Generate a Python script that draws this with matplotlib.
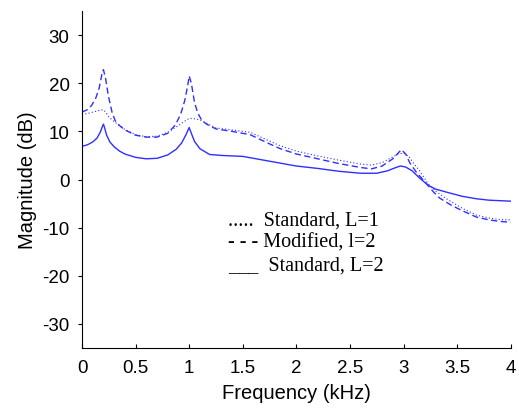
import matplotlib
matplotlib.use('Agg')
import matplotlib.pyplot as plt

# values (kHz, dB)
f_std2 = [0, 0.05, 0.1, 0.14, 0.17, 0.19, 0.2, 0.21, 0.23, 0.26, 0.3, 0.35, 0.4, 0.5, 0.6, 0.7,
          0.8, 0.88, 0.93, 0.97, 1.0, 1.02, 1.05, 1.1, 1.19, 1.3, 1.5, 1.7, 1.85, 2.0, 2.2, 2.4,
          2.6, 2.75, 2.85, 2.93, 2.97, 3.02, 3.08, 3.15, 3.23, 3.3, 3.43, 3.55, 3.68, 3.8, 4.0]
db_std2 = [6.9, 7.2, 7.8, 8.6, 9.8, 11.0, 11.5, 10.8, 9.2, 7.8, 6.8, 5.9, 5.3, 4.6, 4.3, 4.4,
           5.1, 6.3, 7.6, 9.3, 10.8, 9.6, 7.9, 6.4, 5.2, 5.0, 4.8, 4.0, 3.4, 2.8, 2.3, 1.7,
           1.3, 1.3, 1.8, 2.5, 2.8, 2.6, 1.8, 0.3, -1.2, -2.0, -2.8, -3.5, -4.0, -4.3, -4.5]

f_mod = [0, 0.05, 0.09, 0.13, 0.16, 0.18, 0.19, 0.2, 0.22, 0.245, 0.28, 0.31, 0.35, 0.4, 0.5,
         0.6, 0.7, 0.8, 0.87, 0.92, 0.96, 0.99, 1.0, 1.02, 1.05, 1.08, 1.12, 1.17, 1.25, 1.4,
         1.57, 1.75, 1.85, 2.0, 2.2, 2.4, 2.6, 2.7, 2.8, 2.9, 2.95, 2.98, 3.02, 3.06, 3.12,
         3.18, 3.23, 3.28, 3.34, 3.45, 3.55, 3.68, 3.8, 3.9, 4.0]
db_mod = [14.0, 14.5, 15.4, 17.0, 19.0, 21.2, 22.5, 22.8, 21.0, 17.5, 14.0, 12.2, 11.2, 10.3, 9.2,
          8.8, 8.8, 9.6, 11.3, 13.5, 16.5, 20.0, 21.5, 20.0, 16.0, 13.8, 12.2, 11.4, 10.5, 10.0,
          9.3, 7.4, 6.4, 5.3, 4.3, 3.3, 2.5, 2.2, 2.8, 4.3, 5.5, 6.2, 5.3, 3.4, 1.5,
          0.0, -1.3, -2.6, -3.9, -5.4, -6.5, -7.8, -8.4, -8.7, -8.9]

f_std1 = [0, 0.05, 0.1, 0.15, 0.2, 0.22, 0.25, 0.3, 0.35, 0.4, 0.5, 0.6, 0.7, 0.8, 0.9, 0.95,
          1.0, 1.05, 1.1, 1.17, 1.25, 1.4, 1.57, 1.75, 1.85, 2.0, 2.2, 2.4, 2.6, 2.7, 2.8, 2.9,
          2.95, 3.0, 3.05, 3.1, 3.15, 3.23, 3.3, 3.4, 3.55, 3.68, 3.8, 3.9, 4.0]
db_std1 = [13.5, 13.7, 14.0, 14.3, 14.5, 14.0, 13.0, 12.0, 11.2, 10.4, 9.3, 8.9, 9.0, 9.8, 11.2, 12.0,
           12.7, 12.6, 12.4, 11.6, 10.7, 10.3, 9.8, 8.0, 7.0, 5.9, 4.9, 4.0, 3.2, 3.0, 3.5, 4.7,
           5.3, 5.5, 4.8, 3.2, 1.8, -0.9, -2.4, -4.0, -6.0, -7.4, -8.0, -8.3, -8.4]

legend_lines = ['.....  Standard, L=1', '- - - Modified, l=2', '___  Standard, L=2']

blue = '#2f2fff'

plt.rcParams['axes.unicode_minus'] = False

fig = plt.figure(figsize=(5.19, 4.14), dpi=100)
ax = fig.add_axes([0.158, 0.157, 0.826, 0.814])

ax.plot(f_std1, db_std1, color=blue, lw=0.8, linestyle=(0, (1, 2)))
ax.plot(f_mod, db_mod, color=blue, lw=1.0, linestyle=(0, (4.5, 2.5)))
ax.plot(f_std2, db_std2, color=blue, lw=1.0)

ax.set_xlim(0, 4)
ax.set_ylim(-35, 35)
ax.set_xticks([0, 0.5, 1, 1.5, 2, 2.5, 3, 3.5, 4])
ax.set_xticklabels(['0', '0.5', '1', '1.5', '2', '2.5', '3', '3.5', '4'])
ax.set_yticks([-30, -20, -10, 0, 10, 20, 30])

ax.spines['top'].set_visible(False)
ax.spines['right'].set_visible(False)
for s in ['left', 'bottom']:
    ax.spines[s].set_linewidth(0.8)

ax.tick_params(axis='x', direction='in', length=3, width=0.8, pad=8, labelsize=13.5)
ax.tick_params(axis='y', direction='out', length=3, width=0.8, pad=6, labelsize=13.5)
for lbl in ax.get_xticklabels() + ax.get_yticklabels():
    lbl.set_fontfamily('Liberation Sans')

ax.set_xlabel('Frequency (kHz)', fontdict={'family': 'Liberation Sans', 'size': 14.5}, labelpad=5)
ax.set_ylabel('Magnitude (dB)', fontdict={'family': 'Liberation Sans', 'size': 14.5}, labelpad=4)

# legend is plain text in the original
ys = [221, 243, 266]
for txt, y in zip(legend_lines, ys):
    fig.text(228 / 519, 1 - y / 414, txt, family='Liberation Serif', size=14.5,
             ha='left', va='center')

fig.savefig('out.png', dpi=100)
